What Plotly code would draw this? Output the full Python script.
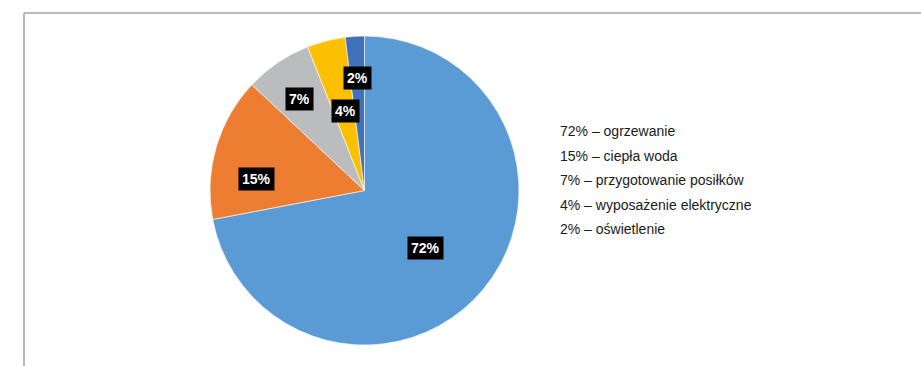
import math
import plotly.graph_objects as go

# Energy use in a household, share by purpose
labels = ["ogrzewanie", "ciepła woda", "przygotowanie posiłków",
          "wyposażenie elektryczne", "oświetlenie"]
values = [72, 15, 7, 4, 2]
colors = ["#5B9BD5", "#ED7D31", "#BBBCBE", "#FBC100", "#4171B8"]

# label placement: radial fraction and angular nudge (degrees) per slice
label_radius = [0.546, 0.70, 0.725, 0.53, 0.73]
label_nudge = [3.6, -10.0, -1.1, 0.9, 0.2]

W, H = 921, 366
cx, cy, R = 364.5, 190.5, 154.5  # pie centre and radius in px

dom_x = [(cx - R) / W, (cx + R) / W]
dom_y = [(H - cy - R) / H, (H - cy + R) / H]

fig = go.Figure(go.Pie(
    labels=labels,
    values=values,
    marker=dict(colors=colors, line=dict(color="white", width=0.6)),
    sort=False,
    direction="clockwise",
    rotation=0,
    textinfo="none",
    hoverinfo="label+percent",
    showlegend=False,
    domain=dict(x=dom_x, y=dom_y),
))

annotations = []
total = sum(values)
cum = 0.0
for v, rf, nudge in zip(values, label_radius, label_nudge):
    mid = (cum + v / 2) / total * 360 + nudge
    cum += v
    a = math.radians(mid)
    px = cx + R * rf * math.sin(a)
    py = cy - R * rf * math.cos(a)
    annotations.append(dict(
        x=px / W, y=1 - py / H, xref="paper", yref="paper",
        text=f"<b>{round(v / total * 100)}%</b>", showarrow=False,
        font=dict(family="Liberation Sans, Arial", size=14, color="white"),
        bgcolor="black", borderpad=3,
        xanchor="center", yanchor="middle",
    ))

# text-only legend
leg_x, leg_y0, leg_dy = 558, 131, 24.5
for i, (lab, v) in enumerate(zip(labels, values)):
    annotations.append(dict(
        x=leg_x / W, y=1 - (leg_y0 + i * leg_dy) / H, xref="paper", yref="paper",
        text=f"{round(v / total * 100)}% – {lab}", showarrow=False,
        font=dict(family="Liberation Sans, Arial", size=14, color="#1a1a1a"),
        xanchor="left", yanchor="middle",
    ))

frame = dict(color="#A3A3A3", width=1.5)
shapes = [
    dict(type="line", xref="paper", yref="paper",
         x0=24 / W, x1=1, y0=1 - 13 / H, y1=1 - 13 / H, line=frame),
    dict(type="line", xref="paper", yref="paper",
         x0=24 / W, x1=24 / W, y0=0, y1=1 - 13 / H, line=frame),
]

fig.update_layout(
    width=W, height=H,
    margin=dict(l=0, r=0, t=0, b=0),
    paper_bgcolor="white", plot_bgcolor="white",
    annotations=annotations,
    shapes=shapes,
)

fig.write_html("out.html")
